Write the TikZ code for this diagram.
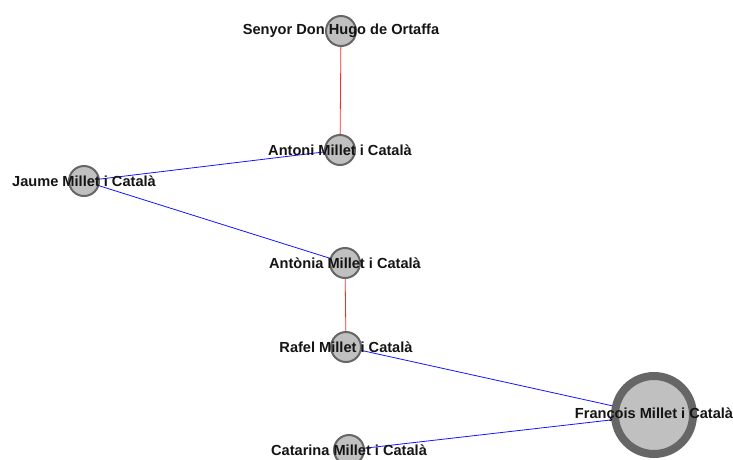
\documentclass[tikz,border=0pt]{standalone}
\usepackage{fontspec}
\setmainfont{Liberation Sans}
\usetikzlibrary{backgrounds}
\definecolor{nodefill}{RGB}{192,192,192}
\definecolor{noderim}{RGB}{102,102,102}
\definecolor{txt}{RGB}{20,20,20}
\tikzset{
  person/.style={circle, draw=noderim, fill=nodefill, line width=2pt, minimum size=30pt, inner sep=0pt,
    label={[lab]center:#1}},
  bigperson/.style={circle, draw=noderim, fill=nodefill, line width=8pt, minimum size=78pt, inner sep=0pt,
    label={[lab]center:#1}},
  lab/.style={text=txt, font=\fontsize{14.6pt}{16pt}\selectfont\bfseries, inner sep=0pt},
  redge/.style={draw={rgb,255:red,255;green,40;blue,40}, line width=0.8pt},
  bedge/.style={draw={rgb,255:red,20;green,20;blue,255}, line width=0.8pt}
}
\begin{document}
\begin{tikzpicture}[x=1pt,y=-1pt]
\useasboundingbox (0,0) rectangle (733,459);
\node[person={Senyor Don Hugo de Ortaffa}] (hugo) at (341,31) {};
\node[person={Antoni Millet i Català}] (antoni) at (340,150) {};
\node[person={Jaume Millet i Català}] (jaume) at (84,181) {};
\node[person={Antònia Millet i Català}] (antonia) at (345,263) {};
\node[person={Rafel Millet i Català}] (rafel) at (346,347) {};
\node[bigperson={François Millet i Català}] (francois) at (654,415) {};
\node[person={Catarina Millet i Català}] (catarina) at (349,450) {};
\begin{pgfonlayer}{background}
\draw[redge] (hugo.center) -- (antoni.center);
\draw[bedge] (jaume.center) -- (antoni.center);
\draw[bedge] (jaume.center) -- (antonia.center);
\draw[redge] (antonia.center) -- (rafel.center);
\draw[bedge] (rafel.center) -- (francois.center);
\draw[bedge] (catarina.center) -- (francois.center);
\end{pgfonlayer}
\end{tikzpicture}
\end{document}
